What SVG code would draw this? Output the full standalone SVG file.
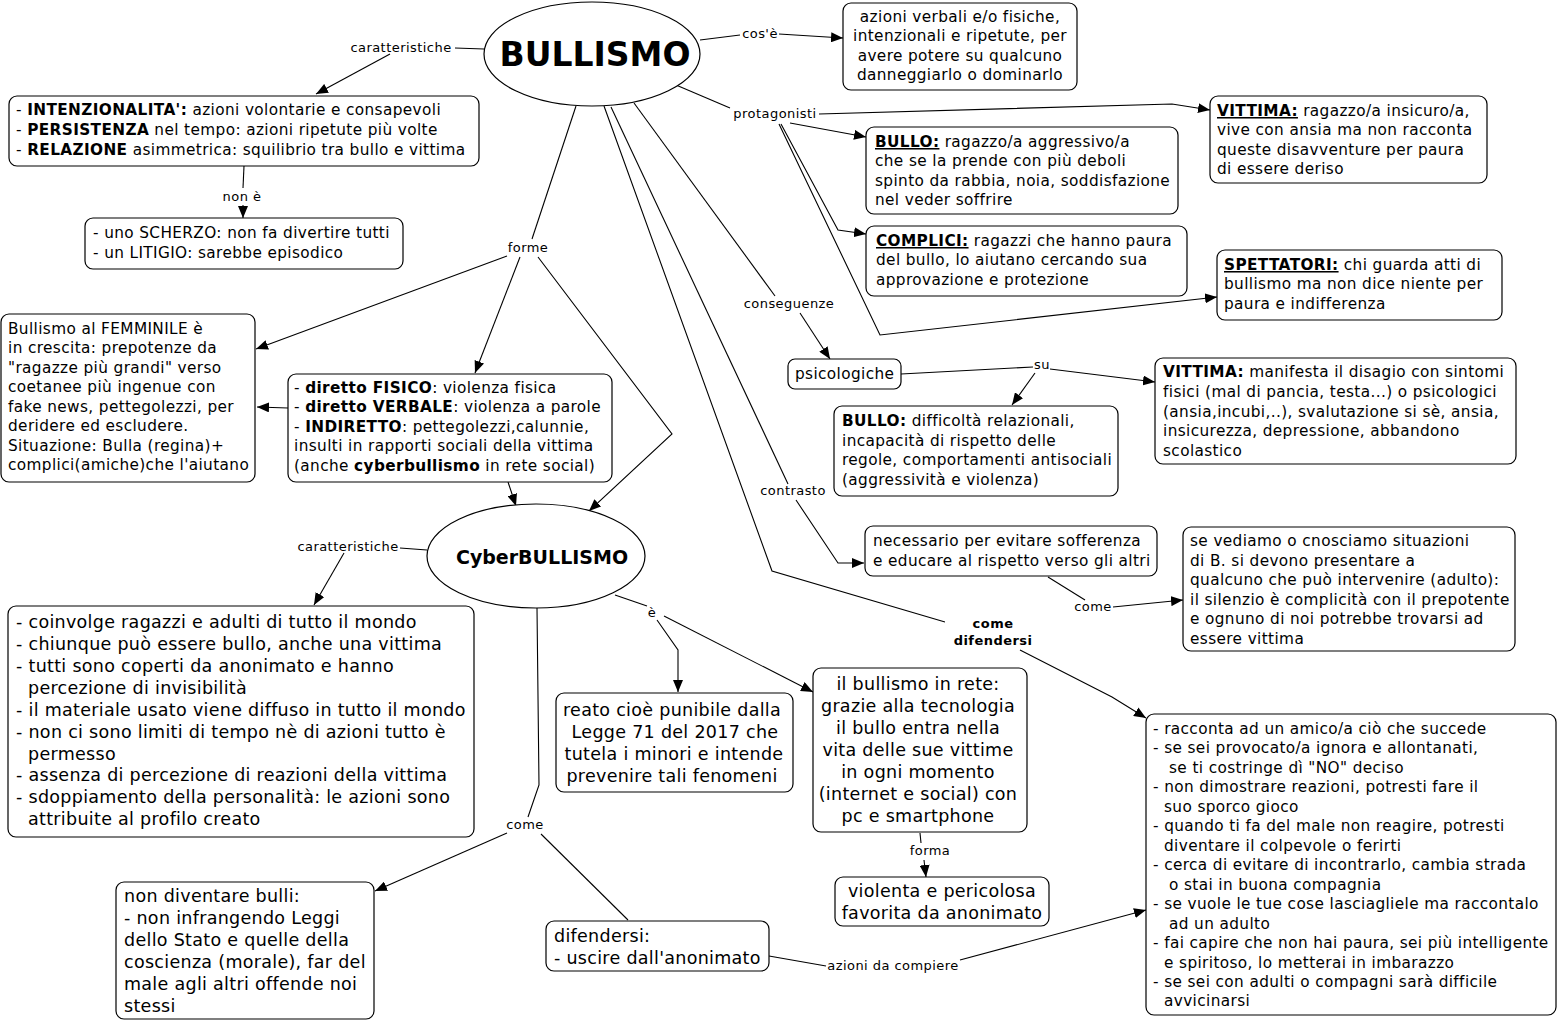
<svg xmlns="http://www.w3.org/2000/svg" width="1560" height="1022" viewBox="0 0 1560 1022">
<style>
.bg{fill:#fff}
.box{fill:#fff;stroke:#000;stroke-width:1.2}
.ell{fill:#fff;stroke:#000;stroke-width:1.2}
.c{fill:none;stroke:#000;stroke-width:1.1}
text{font-family:"DejaVu Sans",Verdana,sans-serif;fill:#000}
.t{font-size:15.3px;letter-spacing:0.38px}
.tl{font-size:17.5px;letter-spacing:0.3px}
.lab{font-size:13px;letter-spacing:0.45px;text-anchor:middle}
.mid{text-anchor:middle}
.b{font-weight:bold}
.u{font-weight:bold;text-decoration:underline}
</style>
<defs>
<marker id="a" viewBox="0 0 12 10" refX="12" refY="5" markerWidth="12" markerHeight="10" orient="auto" markerUnits="userSpaceOnUse"><path d="M0,0 L12,5 L0,10 z" fill="#000"/></marker>
</defs>
<rect class="bg" x="0" y="0" width="1560" height="1022"/>

<g id="connectors">
<path class="c" d="M700,40 L740,35"/><path class="c" d="M779,34 L843,38" marker-end="url(#a)"/>
<path class="c" d="M484,49 L455,48"/><path class="c" d="M390,54 L316,94" marker-end="url(#a)"/>
<path class="c" d="M244,166 L243,188"/><path class="c" d="M243,205 L243,218" marker-end="url(#a)"/>
<path class="c" d="M576,106 L532,239"/>
<path class="c" d="M507,256 L256,349" marker-end="url(#a)"/>
<path class="c" d="M520,257 L475,373" marker-end="url(#a)"/>
<path class="c" d="M538,257 L672,434 L589,511" marker-end="url(#a)"/>
<path class="c" d="M288,408 L257,407" marker-end="url(#a)"/>
<path class="c" d="M508,482 L516,506" marker-end="url(#a)"/>
<path class="c" d="M427,550 L400,548"/><path class="c" d="M344,553 L314,605" marker-end="url(#a)"/>
<path class="c" d="M615,595 L647,606"/>
<path class="c" d="M657,620 L678,650 L678,692" marker-end="url(#a)"/>
<path class="c" d="M664,616 L813,692" marker-end="url(#a)"/>
<path class="c" d="M920,833 L921,843"/><path class="c" d="M924,860 L926,877" marker-end="url(#a)"/>
<path class="c" d="M537,608 L539,785 L528,817"/>
<path class="c" d="M507,833 L375,891" marker-end="url(#a)"/>
<path class="c" d="M541,834 L628,920"/>
<path class="c" d="M769,956 L826,966"/><path class="c" d="M960,960 L1146,910" marker-end="url(#a)"/>
<path class="c" d="M604,106 L772,571 L945,622"/>
<path class="c" d="M1020,650 L1112,697 L1146,718" marker-end="url(#a)"/>
<path class="c" d="M611,107 L788,484"/>
<path class="c" d="M796,500 L838,563 L864,563" marker-end="url(#a)"/>
<path class="c" d="M634,103 L775,296"/><path class="c" d="M800,313 L830,359" marker-end="url(#a)"/>
<path class="c" d="M901,374 L1033,367"/>
<path class="c" d="M1050,369 L1155,382" marker-end="url(#a)"/>
<path class="c" d="M1035,373 L1012,405" marker-end="url(#a)"/>
<path class="c" d="M1048,577 L1085,600"/><path class="c" d="M1113,607 L1183,600" marker-end="url(#a)"/>
<path class="c" d="M676,85 L730,108"/>
<path class="c" d="M819,114 L1172,104 L1210,110" marker-end="url(#a)"/>
<path class="c" d="M790,123 L866,137" marker-end="url(#a)"/>
<path class="c" d="M781,124 L838,230 L866,234" marker-end="url(#a)"/>
<path class="c" d="M779,124 L880,335 L1217,297" marker-end="url(#a)"/>
<text class="lab" x="760" y="38">cos'è</text>
<text class="lab" x="401" y="52">caratteristiche</text>
<text class="lab" x="242" y="201">non è</text>
<text class="lab" x="528" y="252">forme</text>
<text class="lab" x="348" y="551">caratteristiche</text>
<text class="lab" x="652" y="617">è</text>
<text class="lab" x="930" y="855">forma</text>
<text class="lab" x="525" y="829">come</text>
<text class="lab" x="893" y="970">azioni da compiere</text>
<text class="lab b" x="993" y="628">come</text>
<text class="lab b" x="993" y="645">difendersi</text>
<text class="lab" x="793" y="495">contrasto</text>
<text class="lab" x="789" y="308">conseguenze</text>
<text class="lab" x="1042" y="369">su</text>
<text class="lab" x="1093" y="611">come</text>
<text class="lab" x="775" y="118">protagonisti</text>
</g>

<g id="bullismo">
<ellipse class="ell" cx="592" cy="54" rx="108" ry="52"/>
<text class="mid b" x="595" y="66" font-size="33">BULLISMO</text>
</g>

<g id="cose">
<rect class="box" x="843" y="3" width="234" height="87" rx="8"/>
<text class="t mid" x="960"><tspan x="960" y="22">azioni verbali e/o fisiche,</tspan><tspan x="960" y="41">intenzionali e ripetute, per</tspan><tspan x="960" y="61">avere potere su qualcuno</tspan><tspan x="960" y="80">danneggiarlo o dominarlo</tspan></text>
</g>

<g id="caratteristiche">
<rect class="box" x="9" y="96" width="470" height="70" rx="8"/>
<text class="t"><tspan x="16" y="115">- <tspan class="b">INTENZIONALITA':</tspan> azioni volontarie e consapevoli</tspan><tspan x="16" y="135">- <tspan class="b">PERSISTENZA</tspan> nel tempo: azioni ripetute più volte</tspan><tspan x="16" y="155">- <tspan class="b">RELAZIONE</tspan> asimmetrica: squilibrio tra bullo e vittima</tspan></text>
</g>

<g id="nonE">
<rect class="box" x="85" y="218" width="318" height="51" rx="8"/>
<text class="t"><tspan x="93" y="238">- uno SCHERZO: non fa divertire tutti</tspan><tspan x="93" y="258">- un LITIGIO: sarebbe episodico</tspan></text>
</g>

<g id="femminile">
<rect class="box" x="1" y="314" width="254" height="168" rx="8"/>
<text class="t"><tspan x="8" y="334">Bullismo al FEMMINILE è</tspan><tspan x="8" y="353">in crescita: prepotenze da</tspan><tspan x="8" y="373">"ragazze più grandi" verso</tspan><tspan x="8" y="392">coetanee più ingenue con</tspan><tspan x="8" y="412">fake news, pettegolezzi, per</tspan><tspan x="8" y="431">deridere ed escludere.</tspan><tspan x="8" y="451">Situazione: Bulla (regina)+</tspan><tspan x="8" y="470">complici(amiche)che l'aiutano</tspan></text>
</g>

<g id="forme">
<rect class="box" x="288" y="374" width="324" height="108" rx="8"/>
<text class="t"><tspan x="294" y="393">- <tspan class="b">diretto FISICO</tspan>: violenza fisica</tspan><tspan x="294" y="412">- <tspan class="b">diretto VERBALE</tspan>: violenza a parole</tspan><tspan x="294" y="432">- <tspan class="b">INDIRETTO</tspan>: pettegolezzi,calunnie,</tspan><tspan x="294" y="451">insulti in rapporti sociali della vittima</tspan><tspan x="294" y="471">(anche <tspan class="b">cyberbullismo</tspan> in rete social)</tspan></text>
</g>

<g id="cyber">
<ellipse class="ell" cx="536" cy="556" rx="109" ry="52"/>
<text class="mid b" x="542" y="564" font-size="19">CyberBULLISMO</text>
</g>

<g id="cyberCaratt">
<rect class="box" x="8" y="606" width="466" height="231" rx="8"/>
<text class="tl"><tspan x="16" y="628">- coinvolge ragazzi e adulti di tutto il mondo</tspan><tspan x="16" y="650">- chiunque può essere bullo, anche una vittima</tspan><tspan x="16" y="672">- tutti sono coperti da anonimato e hanno</tspan><tspan x="28" y="694">percezione di invisibilità</tspan><tspan x="16" y="716">- il materiale usato viene diffuso in tutto il mondo</tspan><tspan x="16" y="738">- non ci sono limiti di tempo nè di azioni tutto è</tspan><tspan x="28" y="760">permesso</tspan><tspan x="16" y="781">- assenza di percezione di reazioni della vittima</tspan><tspan x="16" y="803">- sdoppiamento della personalità: le azioni sono</tspan><tspan x="28" y="825">attribuite al profilo creato</tspan></text>
</g>

<g id="reato">
<rect class="box" x="556" y="693" width="237" height="99" rx="8"/>
<text class="tl mid"><tspan x="672" y="716">reato cioè punibile dalla</tspan><tspan x="675" y="738">Legge 71 del 2017 che</tspan><tspan x="674" y="760">tutela i minori e intende</tspan><tspan x="672" y="782">prevenire tali fenomeni</tspan></text>
</g>

<g id="rete">
<rect class="box" x="813" y="668" width="214" height="164" rx="8"/>
<text class="tl mid"><tspan x="918" y="690">il bullismo in rete:</tspan><tspan x="918" y="712">grazie alla tecnologia</tspan><tspan x="918" y="734">il bullo entra nella</tspan><tspan x="918" y="756">vita delle sue vittime</tspan><tspan x="918" y="778">in ogni momento</tspan><tspan x="918" y="800">(internet e social) con</tspan><tspan x="918" y="822">pc e smartphone</tspan></text>
</g>

<g id="violenta">
<rect class="box" x="835" y="877" width="214" height="49" rx="8"/>
<text class="tl mid"><tspan x="942" y="897">violenta e pericolosa</tspan><tspan x="942" y="919">favorita da anonimato</tspan></text>
</g>

<g id="nonDiventare">
<rect class="box" x="116" y="882" width="258" height="137" rx="8"/>
<text class="tl"><tspan x="124" y="902">non diventare bulli:</tspan><tspan x="124" y="924">- non infrangendo Leggi</tspan><tspan x="124" y="946">dello Stato e quelle della</tspan><tspan x="124" y="968">coscienza (morale), far del</tspan><tspan x="124" y="990">male agli altri offende noi</tspan><tspan x="124" y="1012">stessi</tspan></text>
</g>

<g id="difendersi">
<rect class="box" x="546" y="921" width="223" height="50" rx="8"/>
<text class="tl"><tspan x="554" y="942">difendersi:</tspan><tspan x="554" y="964">- uscire dall'anonimato</tspan></text>
</g>

<g id="comeDifendersi">
<rect class="box" x="1146" y="714" width="410" height="301" rx="8"/>
<text class="t"><tspan x="1153" y="734">- racconta ad un amico/a ciò che succede</tspan><tspan x="1153" y="753">- se sei provocato/a ignora e allontanati,</tspan><tspan x="1169" y="773">se ti costringe dì "NO" deciso</tspan><tspan x="1153" y="792">- non dimostrare reazioni, potresti fare il</tspan><tspan x="1164" y="812">suo sporco gioco</tspan><tspan x="1153" y="831">- quando ti fa del male non reagire, potresti</tspan><tspan x="1164" y="851">diventare il colpevole o ferirti</tspan><tspan x="1153" y="870">- cerca di evitare di incontrarlo, cambia strada</tspan><tspan x="1169" y="890">o stai in buona compagnia</tspan><tspan x="1153" y="909">- se vuole le tue cose lasciagliele ma raccontalo</tspan><tspan x="1169" y="929">ad un adulto</tspan><tspan x="1153" y="948">- fai capire che non hai paura, sei più intelligente</tspan><tspan x="1164" y="968">e spiritoso, lo metterai in imbarazzo</tspan><tspan x="1153" y="987">- se sei con adulti o compagni sarà difficile</tspan><tspan x="1164" y="1006">avvicinarsi</tspan></text>
</g>

<g id="psicologiche">
<rect class="box" x="788" y="359" width="113" height="30" rx="7"/>
<text class="t" x="795" y="379">psicologiche</text>
</g>

<g id="bulloPsi">
<rect class="box" x="834" y="406" width="284" height="90" rx="8"/>
<text class="t"><tspan x="842" y="426"><tspan class="b">BULLO:</tspan> difficoltà relazionali,</tspan><tspan x="842" y="446">incapacità di rispetto delle</tspan><tspan x="842" y="465">regole, comportamenti antisociali</tspan><tspan x="842" y="485">(aggressività e violenza)</tspan></text>
</g>

<g id="vittimaPsi">
<rect class="box" x="1155" y="358" width="361" height="106" rx="8"/>
<text class="t"><tspan x="1163" y="377"><tspan class="b">VITTIMA:</tspan> manifesta il disagio con sintomi</tspan><tspan x="1163" y="397">fisici (mal di pancia, testa...) o psicologici</tspan><tspan x="1163" y="417">(ansia,incubi,..), svalutazione si sè, ansia,</tspan><tspan x="1163" y="436">insicurezza, depressione, abbandono</tspan><tspan x="1163" y="456">scolastico</tspan></text>
</g>

<g id="necessario">
<rect class="box" x="865" y="526" width="292" height="50" rx="8"/>
<text class="t"><tspan x="873" y="546">necessario per evitare sofferenza</tspan><tspan x="873" y="566">e educare al rispetto verso gli altri</tspan></text>
</g>

<g id="seVediamo">
<rect class="box" x="1183" y="527" width="332" height="124" rx="8"/>
<text class="t"><tspan x="1190" y="546">se vediamo o cnosciamo situazioni</tspan><tspan x="1190" y="566">di B. si devono presentare a</tspan><tspan x="1190" y="585">qualcuno che può intervenire (adulto):</tspan><tspan x="1190" y="605">il silenzio è complicità con il prepotente</tspan><tspan x="1190" y="624">e ognuno di noi potrebbe trovarsi ad</tspan><tspan x="1190" y="644">essere vittima</tspan></text>
</g>

<g id="bullo">
<rect class="box" x="866" y="127" width="312" height="87" rx="8"/>
<text class="t"><tspan x="875" y="147"><tspan class="u">BULLO:</tspan> ragazzo/a aggressivo/a</tspan><tspan x="875" y="166">che se la prende con più deboli</tspan><tspan x="875" y="186">spinto da rabbia, noia, soddisfazione</tspan><tspan x="875" y="205">nel veder soffrire</tspan></text>
</g>

<g id="complici">
<rect class="box" x="866" y="226" width="321" height="70" rx="8"/>
<text class="t"><tspan x="876" y="246"><tspan class="u">COMPLICI:</tspan> ragazzi che hanno paura</tspan><tspan x="876" y="265">del bullo, lo aiutano cercando sua</tspan><tspan x="876" y="285">approvazione e protezione</tspan></text>
</g>

<g id="vittima">
<rect class="box" x="1210" y="96" width="277" height="87" rx="8"/>
<text class="t"><tspan x="1217" y="116"><tspan class="u">VITTIMA:</tspan> ragazzo/a insicuro/a,</tspan><tspan x="1217" y="135">vive con ansia ma non racconta</tspan><tspan x="1217" y="155">queste disavventure per paura</tspan><tspan x="1217" y="174">di essere deriso</tspan></text>
</g>

<g id="spettatori">
<rect class="box" x="1217" y="250" width="285" height="70" rx="8"/>
<text class="t"><tspan x="1224" y="270"><tspan class="u">SPETTATORI:</tspan> chi guarda atti di</tspan><tspan x="1224" y="289">bullismo ma non dice niente per</tspan><tspan x="1224" y="309">paura e indifferenza</tspan></text>
</g>
</svg>
